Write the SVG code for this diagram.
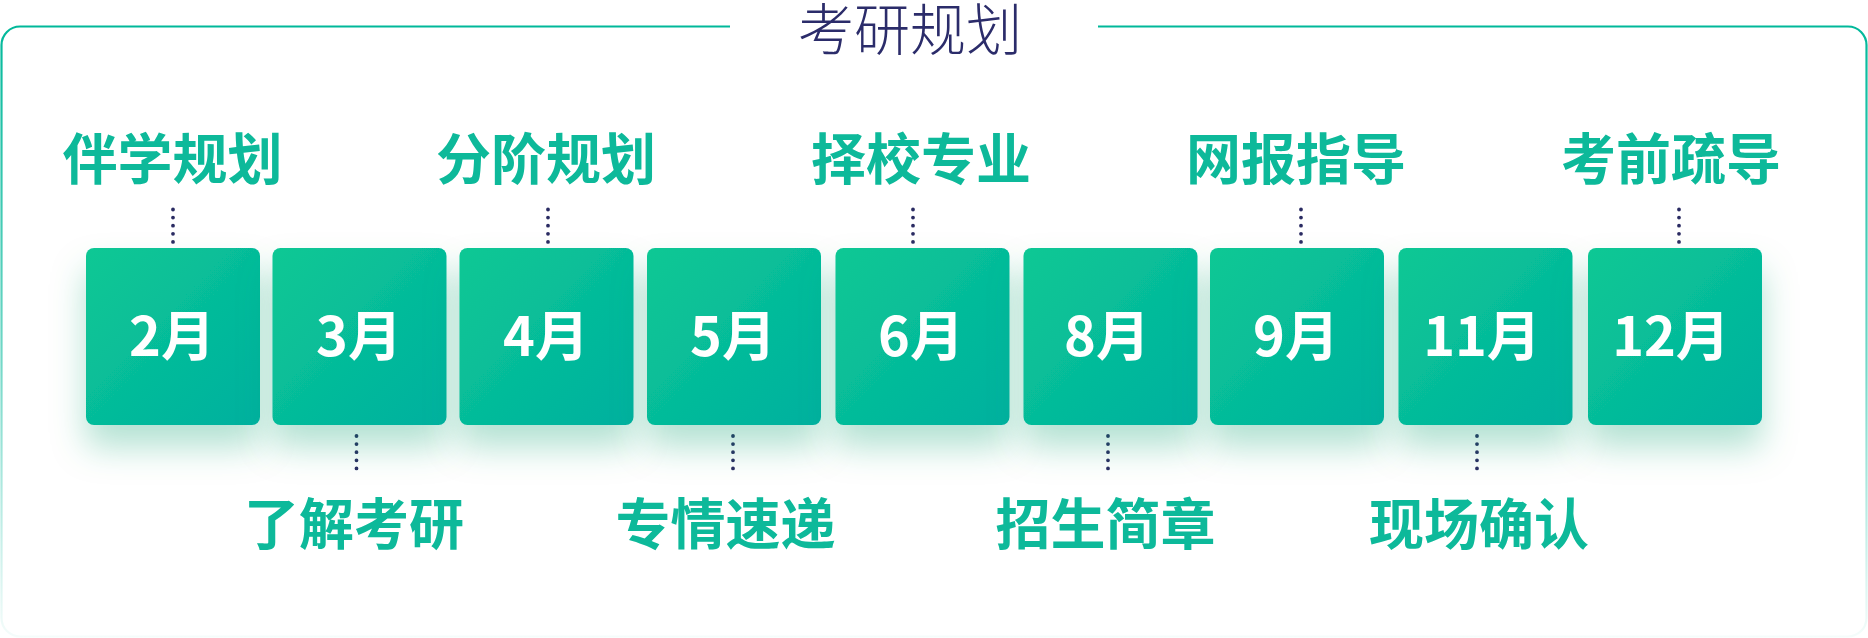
<svg xmlns="http://www.w3.org/2000/svg" width="1868" height="638" viewBox="0 0 1868 638">
  <defs>
    <linearGradient id="boxGrad" x1="0" y1="0" x2="1" y2="1">
      <stop offset="0" stop-color="#0cc894"/>
      <stop offset="1" stop-color="#00b09f"/>
    </linearGradient>
    <linearGradient id="borderGrad" gradientUnits="userSpaceOnUse" x1="0" y1="26" x2="0" y2="637">
      <stop offset="0" stop-color="#00b89a" stop-opacity="1"/>
      <stop offset="0.55" stop-color="#00b89a" stop-opacity="0.55"/>
      <stop offset="1" stop-color="#00b89a" stop-opacity="0.04"/>
    </linearGradient>
    <filter id="shadow" x="-40%" y="-30%" width="180%" height="190%">
      <feDropShadow dx="0" dy="22" stdDeviation="17" flood-color="#0a9e6c" flood-opacity="0.3"/>
    </filter>
  </defs>
  <style>
    .box { fill: url(#boxGrad); filter: url(#shadow); }
    .month { font-family: "Noto Sans CJK SC", "Noto Sans", sans-serif; font-weight: 700; font-size: 54px; fill: #ffffff; text-anchor: middle; }
    .label { font-family: "Noto Sans CJK SC", sans-serif; font-weight: 700; font-size: 55px; fill: #0db99a; text-anchor: middle; }
    .title { font-family: "Noto Sans CJK SC", sans-serif; font-weight: 300; font-size: 56px; fill: #2b2c6a; text-anchor: middle; }
    .dots { stroke: #2a2b62; stroke-width: 3.8; stroke-linecap: round; stroke-dasharray: 0 8.1; fill: none; }
  </style>
  <rect width="1868" height="638" fill="#ffffff"/>
  <g id="frame">
    <path d="M730 26.5 H20 A18.5 18.5 0 0 0 1.5 45 V618 A18.5 18.5 0 0 0 20 636.5 H1848 A18.5 18.5 0 0 0 1866.5 618 V45 A18.5 18.5 0 0 0 1848 26.5 H1098" fill="none" stroke="url(#borderGrad)" stroke-width="2.2"/>
  </g>
  <g id="title">
    <text class="title" x="910" y="50">考研规划</text>
  </g>
  <g id="connectors">
    <line class="dots" x1="173" y1="209.5" x2="173" y2="250"/>
    <line class="dots" x1="548" y1="209.5" x2="548" y2="250"/>
    <line class="dots" x1="913" y1="209.5" x2="913" y2="250"/>
    <line class="dots" x1="1301" y1="209.5" x2="1301" y2="250"/>
    <line class="dots" x1="1679" y1="209.5" x2="1679" y2="250"/>
    <line class="dots" x1="356.5" y1="436" x2="356.5" y2="476.5"/>
    <line class="dots" x1="733" y1="436" x2="733" y2="476.5"/>
    <line class="dots" x1="1108" y1="436" x2="1108" y2="476.5"/>
    <line class="dots" x1="1477" y1="436" x2="1477" y2="476.5"/>
  </g>
  <g id="node-feb"><rect class="box" x="86" y="248" width="174" height="177" rx="8"/><text class="month" x="172" y="356">2月</text></g>
  <g id="node-mar"><rect class="box" x="272.5" y="248" width="174" height="177" rx="8"/><text class="month" x="359" y="356">3月</text></g>
  <g id="node-apr"><rect class="box" x="459.5" y="248" width="174" height="177" rx="8"/><text class="month" x="546" y="356">4月</text></g>
  <g id="node-may"><rect class="box" x="647" y="248" width="174" height="177" rx="8"/><text class="month" x="733" y="356">5月</text></g>
  <g id="node-jun"><rect class="box" x="835.5" y="248" width="174" height="177" rx="8"/><text class="month" x="921" y="356">6月</text></g>
  <g id="node-aug"><rect class="box" x="1023.5" y="248" width="174" height="177" rx="8"/><text class="month" x="1107" y="356">8月</text></g>
  <g id="node-sep"><rect class="box" x="1210" y="248" width="174" height="177" rx="8"/><text class="month" x="1296" y="356">9月</text></g>
  <g id="node-nov"><rect class="box" x="1398.5" y="248" width="174" height="177" rx="8"/><text class="month" x="1482" y="356">11月</text></g>
  <g id="node-dec"><rect class="box" x="1588" y="248" width="174" height="177" rx="8"/><text class="month" x="1671" y="356">12月</text></g>
  <g id="label-banxue"><text class="label" x="172.5" y="179">伴学规划</text></g>
  <g id="label-fenjie"><text class="label" x="546" y="179">分阶规划</text></g>
  <g id="label-zexiao"><text class="label" x="921" y="179">择校专业</text></g>
  <g id="label-wangbao"><text class="label" x="1296" y="179">网报指导</text></g>
  <g id="label-kaoqian"><text class="label" x="1671" y="179">考前疏导</text></g>
  <g id="label-liaojie"><text class="label" x="354" y="544">了解考研</text></g>
  <g id="label-zhuanqing"><text class="label" x="725.5" y="544">专情速递</text></g>
  <g id="label-zhaosheng"><text class="label" x="1105.5" y="544">招生简章</text></g>
  <g id="label-xianchang"><text class="label" x="1479" y="544">现场确认</text></g>
</svg>
